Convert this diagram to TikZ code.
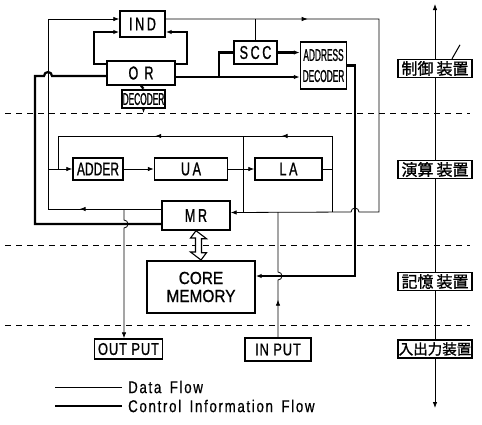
\documentclass[tikz,border=0pt]{standalone}
\usepackage{fontspec}
\setmainfont{Liberation Sans}
\newfontfamily\jpfont{Noto Sans CJK JP}[FakeBold=1.2]
\newfontfamily\condfont{Liberation Sans}[FakeStretch=0.65,FakeBold=1]
\newfontfamily\spacedfont{Liberation Sans}[FakeStretch=0.68,LetterSpace=14,FakeBold=1]
\newfontfamily\narrowfont{Liberation Sans}[FakeStretch=0.49,FakeBold=1]
\newfontfamily\widefont{Liberation Sans}[FakeStretch=0.88,FakeBold=0.8]
\newfontfamily\iofont{Liberation Sans}[FakeStretch=0.76,LetterSpace=5,FakeBold=0.8]
\newfontfamily\legendfont{Liberation Sans}[FakeStretch=0.78,LetterSpace=10,FakeBold=0.6]
\usetikzlibrary{arrows.meta,decorations.markings,calc}

\begin{document}
\begin{tikzpicture}[x=1pt, y=-1pt,
    blk/.style={rectangle, draw, line width=1.4pt, inner sep=0pt, fill=white},
    regtxt/.style={font=\spacedfont\fontsize{18.5}{20}\selectfont},
    addtxt/.style={font=\condfont\fontsize{18.5}{20}\selectfont},
    nartxt/.style={font=\narrowfont\fontsize{17}{21}\selectfont},
    memtxt/.style={font=\widefont\fontsize{17.5}{18}\selectfont},
    iotxt/.style={font=\iofont\fontsize{17}{18}\selectfont},
    jbox/.style={blk, minimum width=74pt, minimum height=18pt,
                 font=\jpfont\fontsize{16}{16}\selectfont},
    dline/.style={line width=0.8pt},
    cline/.style={line width=2.2pt},
    tip/.style={-{Latex[length=6pt,width=4.5pt]}},
    midarrow/.style={postaction={decorate}, decoration={markings,
        mark=at position #1 with {\arrow{Latex[length=6pt,width=4.5pt]}}}},
    midarrows/.style 2 args={postaction={decorate}, decoration={markings,
        mark=at position #1 with {\arrow{Latex[length=6pt,width=4.5pt]}},
        mark=at position #2 with {\arrow{Latex[length=6pt,width=4.5pt]}}}},
    sep/.style={dash pattern=on 6pt off 5pt, line width=0.9pt}
  ]
  \useasboundingbox (0,0) rectangle (482,424);

  % level separators
  \coordinate (d1) at (5,113);
  \coordinate (d2) at (5,245);
  \coordinate (d3) at (5,325);
  \draw[sep] (d1) -- (470,113);
  \draw[sep] (d2) -- (470,245);
  \draw[sep] (d3) -- (470,325);

  % units
  \node[blk, regtxt, minimum width=45pt, minimum height=26pt] (ind) at (142.5,24) {IND};
  \node[blk, regtxt, minimum width=68pt, minimum height=24pt] (orr) at (141,73) {O R};
  \node[blk, nartxt, line width=2.6pt, minimum width=43pt, minimum height=18pt] (dec) at (143.5,99) {DECODER};
  \node[blk, regtxt, minimum width=43pt, minimum height=23pt] (scc) at (255.5,52.5) {SCC};
  \node[blk, nartxt, align=center, minimum width=46pt, minimum height=47pt] (adec) at (323.5,65.5) {ADDRESS\\DECODER};
  \node[blk, addtxt, minimum width=50pt, minimum height=22pt] (adder) at (98,169) {ADDER};
  \node[blk, regtxt, minimum width=73pt, minimum height=22pt] (ua) at (191,169) {UA};
  \node[blk, regtxt, minimum width=67pt, minimum height=22pt] (la) at (288.5,169) {LA};
  \node[blk, regtxt, minimum width=68pt, minimum height=29pt] (mr) at (196,215.5) {MR};
  \node[blk, memtxt, align=center, minimum width=108pt, minimum height=52pt] (core) at (201,287) {CORE\\MEMORY};
  \node[blk, iotxt, minimum width=68pt, minimum height=20pt] (outp) at (128.5,349) {OUT PUT};
  \node[blk, iotxt, minimum width=66pt, minimum height=23pt] (inp) at (278,349.5) {IN PUT};

  % MR <=> CORE MEMORY
  \draw[line width=1.1pt, fill=white] (mr.south) -- ++(10.5,8) -- ++(-5,0) -- ++(0,14)
    -- ++(5,0) -- (core.north |- 0,260) -- ++(-10.5,-8) -- ++(5,0) -- ++(0,-14)
    -- ++(-5,0) -- cycle;

  % levels
  \node[jbox] (j1) at (435,68.5) {制御\hspace{3pt}装置};
  \node[jbox] (j2) at (435,169.5) {演算\hspace{3pt}装置};
  \node[jbox] (j3) at (435,281.5) {記憶\hspace{3pt}装置};
  \node[jbox, font=\jpfont\fontsize{14.5}{14.5}\selectfont] (j4) at (435,349) {入出力装置};
  \coordinate (axt) at (435,4);
  \coordinate (axb) at (435,408);
  \draw[dline, tip] (j1) -- (axt);
  \draw[dline] (j1) -- (j2) (j2) -- (j3) (j3) -- (j4);
  \draw[dline, tip] (j4) -- (axb);
  \draw[line width=1pt] ([xshift=17pt]j1.north) -- ++(8,-14);

  % control information flow
  \draw[cline, tip] ([yshift=9pt]orr.west) -| (94,32) -- ([yshift=-8pt]ind.west);
  \draw[cline, tip] ([yshift=9pt]orr.east) -| (187,32) -- ([yshift=-8pt]ind.east);
  \draw[cline, tip] ([yshift=-4pt]orr.east) -- ([yshift=-4pt]orr.east -| adec.west);
  \draw[cline] (219,77) |- (scc.west);
  \draw[cline, tip] (scc.east) -- (scc.east -| adec.west);
  \draw[cline, tip] (adec.east) -| (355,276) -- ([yshift=11pt]core.east);
  \draw[cline] ([yshift=-3pt]orr.west) -- (52,76) arc[start angle=0, end angle=180, radius=4pt]
    -- (35,76) |- ([yshift=-8.5pt]mr.west);
  \draw[cline] (orr.south) -- (dec.north);
  \draw[dline, tip] (dec.south) -- (dec.south |- d1);

  % data flow
  \coordinate (topbus) at (379,19);
  \coordinate (lowbus) at (379,212);
  \draw[dline, tip, midarrow=0.254] ([yshift=5pt]ind.east) -- (topbus) -- (lowbus)
    -- (359,212) arc[start angle=0, end angle=180, radius=4pt] -- ([yshift=3pt]mr.east);
  \draw[dline] (scc.north) -- (scc.north |- topbus);
  \draw[dline, midarrows={0.33}{0.66}] (332,212) -- (332,136) -- (58,136) -- (58,169);
  \draw[dline] (la.east) -- (332,169);
  \draw[dline] (243,136) -- (243,212);
  \draw[dline, tip, midarrow=0.218] ([yshift=6.5pt]mr.west) -| (48,19) -- ([yshift=5pt]ind.west);
  \draw[dline, tip] (48,169) -- (adder.west);
  \draw[dline, tip] (adder.east) -- (ua.west);
  \draw[dline, tip] (ua.east) -- (la.west);
  \draw[dline, tip] (124,209) -- (124,220) arc[start angle=90, end angle=-90, radius=4pt]
    -- ([xshift=-4.5pt]outp.north);
  \draw[dline, midarrow=0.29] (inp.north) -- (278,280) arc[start angle=-90, end angle=90, radius=4pt]
    -- (278,212);

  % legend
  \node[anchor=west, inner sep=0pt, font=\legendfont\fontsize{17}{18}\selectfont] (lgdata) at (128,387) {Data\enspace Flow};
  \node[anchor=west, inner sep=0pt, font=\legendfont\fontsize{17}{18}\selectfont] (lgctrl) at (128,406) {Control\enspace Information\enspace Flow};
  \draw[dline] ([xshift=-6pt]lgdata.west) -- ++(-67,0);
  \draw[cline] ([xshift=-6pt]lgctrl.west) -- ++(-67,0);
\end{tikzpicture}
\end{document}
